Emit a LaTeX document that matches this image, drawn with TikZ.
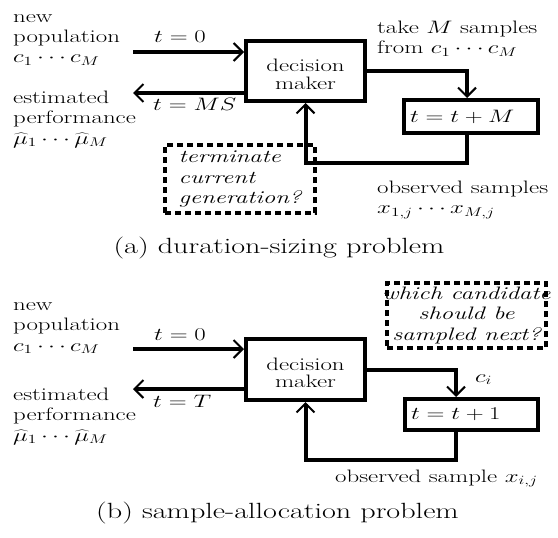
\RequirePackage{fix-cm}
\documentclass[tikz,border=0pt]{standalone}
\usepackage{graphicx}
\usetikzlibrary{arrows.meta}
\newcommand{\hsx}[1]{\scalebox{1.38}[1]{#1}}
\newcommand{\capsx}[1]{\scalebox{1.37}[1]{#1}}
\newcommand{\stackL}[1]{\hsx{\begin{tabular}[t]{@{}l@{}}#1\end{tabular}}}
\newcommand{\stackC}[1]{\hsx{\begin{tabular}{@{}c@{}}#1\end{tabular}}}
\begin{document}
\begin{tikzpicture}[x=1pt,y=-1pt,
  txt/.style={inner sep=0pt, font=\fontsize{18}{20.5}\selectfont},
  box/.style={draw, line width=4pt, inner sep=0pt, font=\fontsize{18}{20.5}\selectfont},
  dbox/.style={draw, dash pattern=on 6pt off 4pt, line width=3.5pt, inner sep=0pt, font=\fontsize{18}{20.5}\selectfont},
  arr/.style={line width=4pt, -{Straight Barb[length=9pt,width=18pt,line width=2pt]}},
  captxt/.style={inner sep=0pt, font=\fontsize{22}{26}\selectfont}]
\useasboundingbox (0,0) rectangle (558,538);
% ---------- (a) ----------
\node[txt, anchor=base west] (newpopA) at (13,22) {\stackL{new\\population\\$c_1\cdots c_M$}};
\node[txt, anchor=base west] (estA) at (13,103) {\stackL{estimated\\performance\\$\widehat{\mu}_1\cdots\widehat{\mu}_M$}};
\node[box, minimum width=119pt, minimum height=60pt] (dmA) at (305.5,71)
  {\raisebox{-6pt}[\height][\depth]{\def\arraystretch{0.83}\stackC{decision\\maker}}};
\node[box, minimum height=33pt, text width=122pt, inner xsep=6pt, align=left] (updA) at (471,116.5) {\hsx{$t=t+M$}};
\coordinate (inA) at (133,52);
\coordinate (outA) at (133,93);
\draw[arr] (inA) -- (inA -| dmA.west);
\draw[arr] (outA -| dmA.west) -- (outA);
\node[txt, anchor=base] (t0A) at (180,42) {\hsx{$t=0$}};
\node[txt, anchor=base west] (tmsA) at (153,110) {\hsx{$t=MS$}};
\node[txt, anchor=base west] (takeA) at (377,33) {\stackL{take $M$ samples\\from $c_1\cdots c_M$}};
\draw[arr] (dmA.east) -| ([xshift=-4pt]updA.north);
\coordinate (fbA) at (305.5,163);
\draw[arr] ([xshift=-4pt]updA.south) |- (fbA) -- (dmA.south);
\node[dbox, minimum width=150pt, minimum height=68pt] (termA) at (240,179)
  {\hsx{\itshape\begin{tabular}{@{}l@{}}terminate\\current\\generation?\end{tabular}}};
\node[txt, anchor=base west] (obsA) at (377,193) {\stackL{observed samples\\$x_{1,j}\cdots x_{M,j}$}};
\node[captxt, anchor=base] (capA) at (279,253) {\capsx{(a) duration-sizing problem}};
% ---------- (b) ----------
\node[txt, anchor=base west] (newpopB) at (13,310) {\stackL{new\\population\\$c_1\cdots c_M$}};
\node[txt, anchor=base west] (estB) at (13,400) {\stackL{estimated\\performance\\$\widehat{\mu}_1\cdots\widehat{\mu}_M$}};
\node[box, minimum width=119pt, minimum height=61pt] (dmB) at (305.5,369.5)
  {\raisebox{-6pt}[\height][\depth]{\def\arraystretch{0.83}\stackC{decision\\maker}}};
\node[box, minimum height=31pt, text width=121pt, inner xsep=6pt, align=left] (updB) at (471.5,414.5) {\hsx{$t=t+1$}};
\node[dbox, minimum width=159pt, minimum height=65pt] (whichB) at (466.5,315.5)
  {\makebox[140pt]{\hsx{\itshape\begin{tabular}{@{}c@{}}which candidate\\should be\\sampled next?\end{tabular}}}};
\coordinate (inB) at (133,349);
\coordinate (outB) at (133,389);
\draw[arr] (inB) -- (inB -| dmB.west);
\draw[arr] (outB -| dmB.west) -- (outB);
\node[txt, anchor=base] (t0B) at (180,340) {\hsx{$t=0$}};
\node[txt, anchor=base west] (tTB) at (153,407) {\hsx{$t=T$}};
\draw[arr] (dmB.east) -| ([xshift=-15.5pt]updB.north);
\node[txt, anchor=base west] (ciB) at (475,382) {\hsx{$c_i$}};
\coordinate (fbB) at (305.5,460);
\draw[arr] ([xshift=-15.5pt]updB.south) |- (fbB) -- (dmB.south);
\node[txt, anchor=base west] (obsB) at (335,482) {\hsx{observed sample $x_{i,j}$}};
\node[captxt, anchor=base] (capB) at (277.5,518) {\capsx{(b) sample-allocation problem}};
\end{tikzpicture}
\end{document}
